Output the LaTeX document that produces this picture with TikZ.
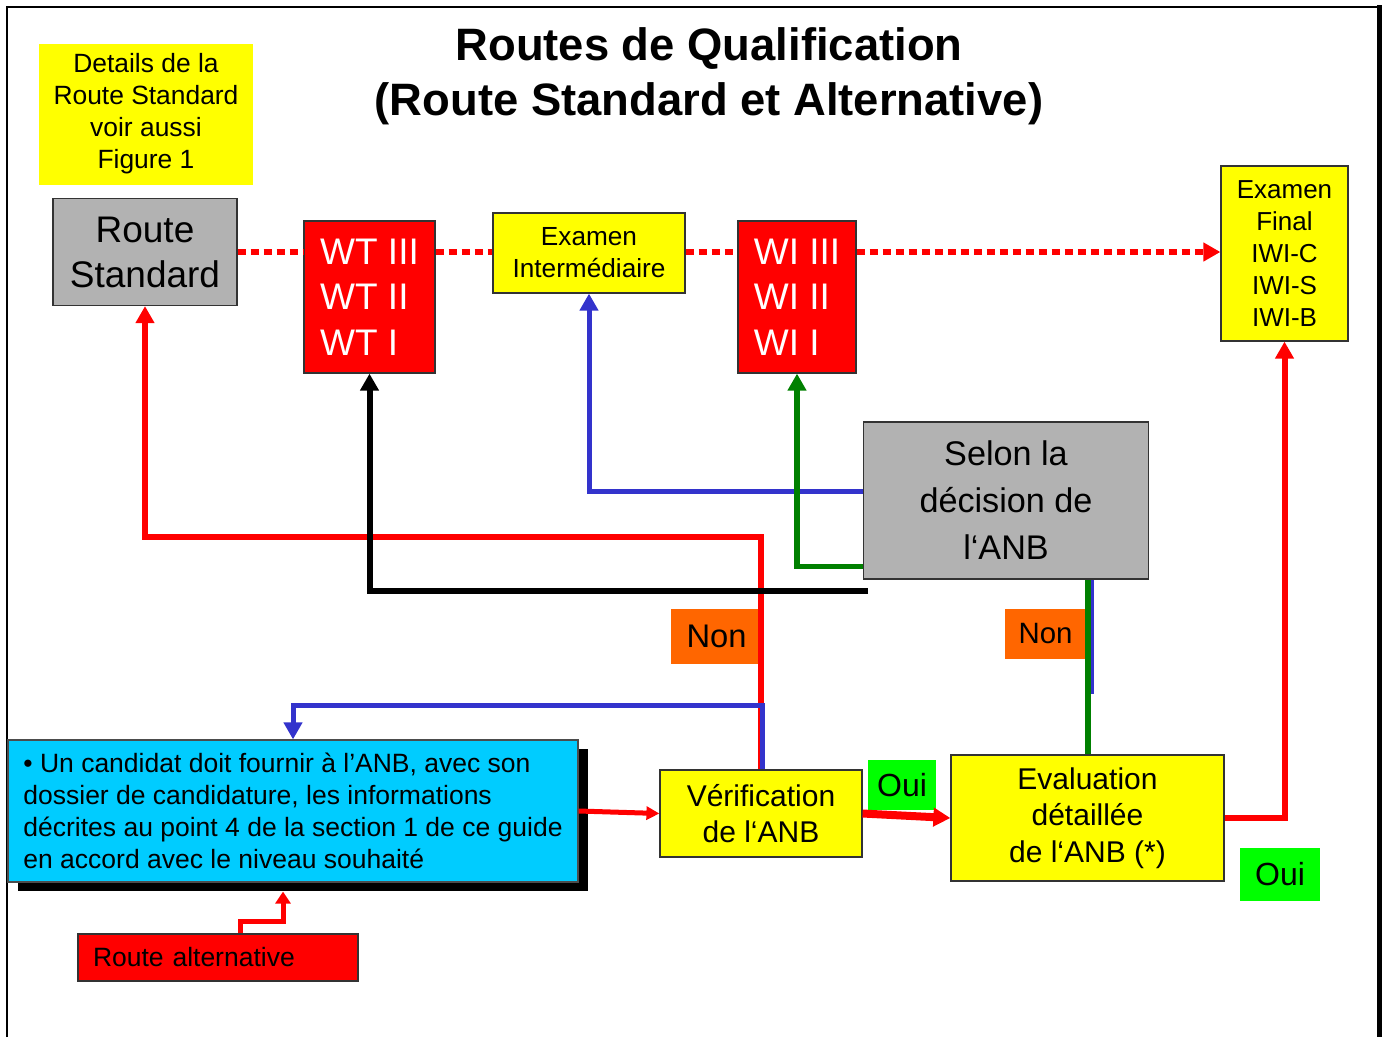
\documentclass[tikz,border=0pt]{standalone}
\usepackage{xcolor}
\usepackage{fontspec}
\setmainfont{Liberation Sans}
\usepackage{tikz}
\usetikzlibrary{shapes}
\usetikzlibrary{positioning}
\usetikzlibrary{shadows}
\usetikzlibrary{arrows.meta}
\definecolor{jaune}{rgb}{1.0,1.0,0.0}
\definecolor{gris}{rgb}{0.7,0.7,0.7}
\definecolor{rouge}{rgb}{1.0,0.0,0.0}
\definecolor{ciel}{rgb}{0.0,0.8,1.0}
\definecolor{orangenon}{rgb}{1.0,0.4,0.0}
\definecolor{vertoui}{rgb}{0.0,1.0,0.0}
\definecolor{vert}{rgb}{0.0,0.5,0.0}
\definecolor{bleu}{rgb}{0.2,0.2,0.8}
\newcommand{\fsz}[2]{\fontsize{#1}{#2}\selectfont}

\begin{document}
\begin{tikzpicture}[x=1pt,y=-1pt,thick]
\tikzset{
    box/.style       = {rectangle, draw=black!80, line width=1.2pt, inner sep=0pt, align=center},
    yellowbox/.style = {box, fill=jaune},
    greybox/.style   = {box, fill=gris},
    redbox/.style    = {box, fill=rouge, text=white, align=left},
    tag/.style       = {rectangle, inner sep=0pt, align=center},
    conn/.style      = {line width=6pt},
    headarrow/.style = {-{Triangle[length=17pt,width=18pt]}}
}
\useasboundingbox (0,0) rectangle (1383,1037);
\draw[line width=2.5pt] (7,1037) -- (7,7) -- (1379,7);
\draw[line width=5pt] (1379.5,5) -- (1379.5,1037);

\node (titre) at (709,76) [align=center, font=\bfseries\fsz{45.4}{55}]
   {Routes de Qualification\\(Route Standard et Alternative)};

\node (details) at (146,114) [tag, fill=jaune, minimum width=214pt, minimum height=141pt, font=\fsz{26.4}{32}]
   {Details de la\\Route Standard\\voir aussi\\Figure 1};
\node (rstd) at (145,252) [greybox, minimum width=184pt, minimum height=107pt, font=\fsz{37}{45}]
   {Route\\Standard};
\node (wt) at (369.5,297) [redbox, minimum width=131pt, minimum height=152pt, font=\fsz{37}{45.5}]
   {WT III\\WT II\\WT I};
\node (exint) at (589,253) [yellowbox, minimum width=192pt, minimum height=80pt, font=\fsz{26.2}{32}]
   {Examen\\Intermédiaire};
\node (wi) at (797,297) [redbox, minimum width=118pt, minimum height=152pt, font=\fsz{37}{45.5}]
   {WI III\\WI II\\WI I};
\node (exfin) at (1284.5,253.5) [yellowbox, minimum width=127pt, minimum height=175pt, font=\fsz{26}{32}]
   {Examen\\Final\\IWI-C\\IWI-S\\IWI-B};
\node (selon) at (1006,500.5) [greybox, minimum width=285pt, minimum height=157pt, font=\fsz{34.2}{47}]
   {Selon la\\décision de\\l‘ANB};
\node (verif) at (761,813.5) [yellowbox, minimum width=202pt, minimum height=87pt, font=\fsz{30}{36}]
   {Vérification\\de l‘ANB};
\node (eval) at (1087.5,818) [yellowbox, minimum width=273pt, minimum height=126pt, font=\fsz{30}{36.5}]
   {Evaluation\\détaillée\\de l‘ANB (*)};
\node (cand) at (293,811) [box, draw=black!70, fill=ciel, align=left,
   minimum width=570pt, minimum height=142pt, font=\fsz{26.5}{32},
   drop shadow={shadow xshift=10pt, shadow yshift=-9pt, fill=black, opacity=1}]
   {• Un candidat doit fournir à l’ANB, avec son\\dossier de candidature, les informations\\décrites au point 4 de la section 1 de ce guide\\en accord avec le niveau souhaité};
\node (ralt) at (218,957.5) [box, fill=rouge, align=left, text width=250pt, inner xsep=15pt,
   minimum height=47pt, font=\fsz{26.5}{32}]
   {Route alternative};

\node (ouiA) at (902,785) [tag, fill=vertoui, minimum width=68pt, minimum height=50pt, font=\fsz{32}{36}] {Oui};
\node (ouiB) at (1280,874.5) [tag, fill=vertoui, minimum width=80pt, minimum height=53pt, font=\fsz{32}{36}] {Oui};
\node (nonA) at (716.5,636.5) [tag, fill=orangenon, minimum width=91pt, minimum height=55pt, font=\fsz{32.7}{36}] {Non};
\node (nonB) at (1045.5,634) [tag, fill=orangenon, minimum width=81pt, minimum height=50pt, font=\fsz{29.4}{34}] {Non};

% route standard, pointillee
\tikzset{dotline/.style={conn, rouge, dash pattern=on 8pt off 5pt}}
\draw[dotline] (rstd.east) -- (rstd.east -| wt.west);
\draw[dotline] (rstd.east -| wt.east) -- (rstd.east -| exint.west);
\draw[dotline] (rstd.east -| exint.east) -- (rstd.east -| wi.west);
\draw[dotline, headarrow] (rstd.east -| wi.east) -- (rstd.east -| exfin.west);

\coordinate (redknee) at (761,537);
\coordinate (blueknee) at (761,705);
\coordinate (blackend) at (868,591);

\draw[conn, rouge, headarrow] (verif.north) -- (verif.north |- redknee) -| (rstd.south);
\draw[conn, rouge, line width=5pt, -{Triangle[length=13pt,width=13pt]}] (cand.east) -- (verif.west);
\draw[conn, rouge, line width=8pt, headarrow] (verif.east) -- (eval.west);
\draw[conn, rouge, headarrow] (eval.east) -| (exfin.south);
\draw[conn, rouge, line width=5pt, -{Triangle[length=12pt,width=15pt]}]
   ([xshift=22pt]ralt.north) -- ++(0,-12) -| ([xshift=-10pt,yshift=-9pt]cand.south);

\draw[conn, bleu, line width=5pt, headarrow] ([xshift=1.5pt]verif.north) -- ([xshift=1.5pt]blueknee) -| (cand.north);
\draw[conn, bleu, line width=5pt, headarrow] ([yshift=9.5pt]selon.west) -| (exint.south);
\draw[conn, bleu, line width=3pt] ([xshift=5pt]selon.south -| eval.north) -- ++(0,114);

\draw[conn, vert, line width=5.5pt, headarrow] ([yshift=13pt]selon.south west) -| (wi.south);
\draw[conn, vert] (eval.north) -- (eval.north |- selon.south);

\draw[conn, black, headarrow] (blackend) -| (wt.south);
\end{tikzpicture}
\end{document}
